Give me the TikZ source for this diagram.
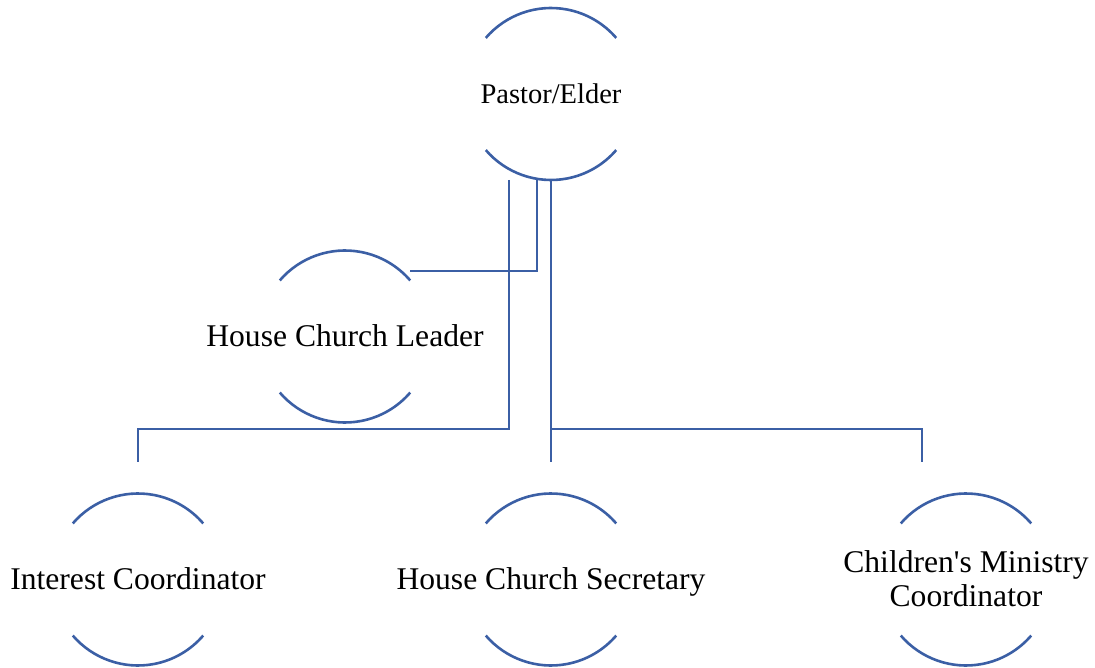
\documentclass[tikz,border=0pt]{standalone}
\usepackage{fontspec}
\setmainfont{Liberation Serif}
\definecolor{lineblue}{RGB}{59,95,165}
\newcommand\ringarcs[1]{%
  \draw[conn] ([shift={(139.3:86pt)}]#1.center) arc[start angle=139.3,end angle=40.7,radius=86pt];
  \draw[conn] ([shift={(220.7:86pt)}]#1.center) arc[start angle=220.7,end angle=319.3,radius=86pt];
}
\begin{document}
\begin{tikzpicture}[x=1pt,y=-1pt,
  conn/.style={draw=lineblue,line width=2.6pt},
  lbl/.style={inner sep=0pt,align=center,text height=20.9pt,text depth=0pt,font=\fontsize{31.6}{34}\selectfont},
  lblsmall/.style={inner sep=0pt,align=center,text height=18.9pt,text depth=0pt,font=\fontsize{28.5}{32}\selectfont}]
\useasboundingbox (0,0) rectangle (1095,668);
\node[lblsmall] (P) at (551,94) {Pastor/Elder};
\node[lbl] (HCL) at (345,336.5) {House Church Leader};
\node[lbl] (IC) at (138,579.5) {Interest Coordinator};
\node[lbl] (HCS) at (551,579.5) {House Church Secretary};
\node[lbl,text height=54.9pt] (CMC) at (966,579.5) {Children\textquotesingle s Ministry\\Coordinator};
\ringarcs{P}
\ringarcs{HCL}
\ringarcs{IC}
\ringarcs{HCS}
\ringarcs{CMC}
\coordinate (Pbot) at ([yshift=-86pt]P.center);
\coordinate (hclIn) at ([shift={(65pt,65.5pt)}]HCL.center);
\draw[conn] ([xshift=-14pt]Pbot) |- (hclIn);
\draw[conn] ([xshift=-42pt]Pbot) -- ++(0,249) -| ([yshift=118pt]IC.center);
\draw[conn] (Pbot) -- ([yshift=118pt]HCS.center);
\draw[conn] (Pbot) ++(0,249) -| ([xshift=-44pt,yshift=118pt]CMC.center);
\end{tikzpicture}
\end{document}
